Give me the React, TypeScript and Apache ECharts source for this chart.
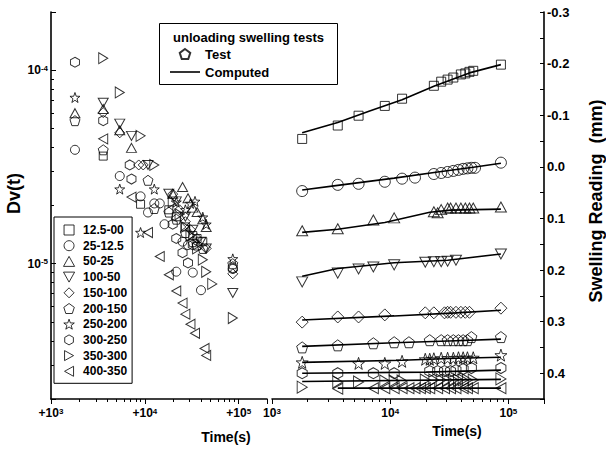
import React, { useEffect, useRef } from 'react';
import * as echarts from 'echarts';

const FONT = '"Liberation Sans", Arial, Helvetica, sans-serif';

// Load steps (kPa)
const STEPS = ['12.5-00', '25-12.5', '50-25', '100-50', '150-100', '200-150', '250-200', '300-250', '350-300', '400-350'];

// ---- Left panel: Dv(t) against time (s)
const dv_12_5_00 = [[3600, 3.6e-5], [9000, 2.03e-5], [18000, 1.9e-5], [21600, 1.75e-5], [27000, 1.55e-5], [32400, 1.4e-5], [36000, 1.35e-5], [41400, 1.3e-5]];
const dv_25_12_5 = [[1800, 3.88e-5], [5400, 2.84e-5], [9000, 2.23e-5], [10800, 1.84e-5], [12600, 2.05e-5], [14400, 2.05e-5], [16200, 1.6e-5], [21600, 9.1e-6], [25200, 1.3e-5], [28800, 1.25e-5], [32400, 9.0e-6], [39600, 7.3e-6], [86400, 9.4e-6]];
const dv_50_25 = [[1800, 6.0e-5], [3600, 6.3e-5], [5400, 4.9e-5], [7200, 3.97e-5], [19800, 2.3e-5], [25200, 2.49e-5], [28800, 2.18e-5], [32400, 1.95e-5], [36000, 1.85e-5], [41400, 1.7e-5], [45000, 1.55e-5]];
const dv_100_50 = [[3600, 6.8e-5], [5400, 5.3e-5], [7200, 4.58e-5], [10800, 3.24e-5], [18000, 2.3e-5], [21600, 2.1e-5], [27000, 1.75e-5], [32400, 1.5e-5], [39600, 1.3e-5], [45000, 1.2e-5], [86400, 7.06e-6]];
const dv_150_100 = [[3600, 6.04e-5], [5400, 4.75e-5], [8600, 3.24e-5], [9600, 3.24e-5], [19800, 2.29e-5], [23400, 1.9e-5], [27000, 1.65e-5], [30600, 1.5e-5], [36000, 1.35e-5], [45000, 1.2e-5], [86400, 8.87e-6]];
const dv_200_150 = [[1800, 5.49e-5], [3600, 3.88e-5], [10800, 2.7e-5], [12600, 1.93e-5], [18000, 1.85e-5], [21600, 1.7e-5], [27000, 1.45e-5], [32400, 1.3e-5], [36000, 1.25e-5], [41400, 1.2e-5], [86400, 1.0e-5]];
const dv_250_200 = [[1800, 7.23e-5], [5400, 2.43e-5], [9000, 1.45e-5], [12600, 2.43e-5], [21600, 2.08e-5], [27000, 1.9e-5], [30600, 2.05e-5], [34200, 2.1e-5], [41400, 1.74e-5], [45000, 1.6e-5], [86400, 1.06e-5]];
const dv_300_250 = [[1800, 1.1e-4], [3600, 5.49e-5], [6900, 3.24e-5], [7200, 2.74e-5], [19800, 1.6e-5], [21600, 1.35e-5], [25200, 1.14e-5], [28800, 1.01e-5], [32400, 1.25e-5], [86400, 9.5e-6]];
const dv_350_300 = [[3600, 1.155e-4], [5400, 7.68e-5], [9000, 4.58e-5], [12600, 3.24e-5], [19800, 2.08e-5], [23400, 1.8e-5], [27000, 1.55e-5], [30600, 1.4e-5], [36000, 1.2e-5], [41400, 1.05e-5], [45000, 9.08e-6], [52200, 7.87e-6], [86400, 5.24e-6]];
const dv_400_350 = [[3600, 4.42e-5], [7200, 2.21e-5], [10800, 1.45e-5], [14400, 1.09e-5], [18000, 8.77e-6], [21600, 7.23e-6], [25200, 6.26e-6], [27000, 5.49e-6], [30600, 4.87e-6], [34200, 4.37e-6], [43200, 3.65e-6], [45000, 3.36e-6]];

// ---- Right panel: swelling reading (mm) against time (s), test points
const sw_12_5_00 = [[1800, -0.054], [3600, -0.08], [5400, -0.099], [9000, -0.118], [12600, -0.132], [23400, -0.157], [27000, -0.165], [30600, -0.169], [34200, -0.173], [39600, -0.179], [43200, -0.181], [46800, -0.184], [50400, -0.186], [86400, -0.198]];
const sw_25_12_5 = [[1800, 0.047], [3600, 0.035], [5400, 0.033], [9000, 0.029], [12600, 0.023], [16200, 0.021], [23400, 0.014], [27000, 0.012], [30600, 0.01], [34200, 0.008], [37800, 0.006], [41400, 0.004], [45000, 0.003], [48600, 0.002], [52200, 0.002], [86400, -0.008]];
const sw_50_25 = [[1800, 0.124], [3600, 0.12], [7200, 0.103], [10800, 0.099], [23400, 0.087], [25200, 0.089], [27000, 0.083], [30600, 0.08], [32400, 0.08], [36000, 0.08], [39600, 0.08], [43200, 0.08], [46800, 0.08], [50400, 0.08], [86400, 0.078]];
const sw_100_50 = [[1800, 0.223], [3600, 0.206], [5400, 0.198], [7200, 0.194], [10800, 0.19], [19800, 0.185], [23400, 0.184], [27000, 0.184], [30600, 0.183], [36000, 0.181], [86400, 0.169]];
const sw_150_100 = [[1800, 0.301], [3600, 0.291], [5400, 0.291], [9000, 0.287], [19800, 0.283], [23400, 0.283], [28800, 0.283], [30600, 0.282], [32400, 0.282], [36000, 0.282], [39600, 0.282], [43200, 0.282], [46800, 0.282], [86400, 0.274]];
const sw_200_150 = [[1800, 0.35], [3600, 0.346], [7200, 0.342], [10800, 0.34], [14400, 0.34], [21600, 0.336], [27000, 0.336], [30600, 0.336], [34200, 0.336], [37800, 0.336], [41400, 0.336], [45000, 0.336], [48600, 0.33], [86400, 0.33]];
const sw_250_200 = [[1800, 0.379], [5400, 0.381], [9000, 0.381], [12600, 0.377], [19800, 0.373], [21600, 0.373], [23400, 0.372], [27000, 0.371], [30600, 0.371], [34200, 0.371], [37800, 0.37], [41400, 0.37], [45000, 0.37], [50400, 0.37], [86400, 0.365]];
const sw_300_250 = [[1800, 0.4], [3600, 0.4], [7200, 0.4], [10800, 0.4], [21600, 0.396], [25200, 0.396], [28800, 0.396], [32400, 0.396], [36000, 0.394], [41400, 0.392], [48600, 0.39], [86400, 0.39]];
const sw_350_300 = [[1800, 0.427], [3600, 0.417], [5400, 0.417], [9000, 0.415], [10800, 0.415], [12600, 0.415], [19800, 0.413], [23400, 0.413], [27000, 0.413], [30600, 0.413], [34200, 0.413], [37800, 0.413], [41400, 0.413], [45000, 0.413], [50400, 0.413], [86400, 0.411]];
const sw_400_350 = [[3600, 0.43], [7200, 0.429], [9000, 0.429], [10800, 0.429], [12600, 0.429], [14400, 0.429], [16200, 0.429], [18000, 0.429], [19800, 0.429], [21600, 0.429], [25200, 0.429], [28800, 0.429], [32400, 0.429], [36000, 0.429], [41400, 0.429], [45000, 0.429], [50400, 0.429], [86400, 0.429]];

// ---- Right panel: computed curves
const cp_12_5_00 = [[1800, -0.066], [3600, -0.086], [6700, -0.108], [12600, -0.13], [23400, -0.156], [46800, -0.182], [86400, -0.198]];
const cp_25_12_5 = [[1800, 0.045], [3600, 0.036], [10800, 0.022], [25200, 0.01], [50400, 0.001], [86400, -0.007]];
const cp_50_25 = [[1800, 0.127], [3600, 0.121], [9000, 0.108], [21600, 0.088], [32400, 0.084], [86400, 0.082]];
const cp_100_50 = [[1800, 0.212], [3600, 0.197], [10800, 0.186], [30600, 0.181], [86400, 0.169]];
const cp_150_100 = [[1800, 0.297], [10800, 0.289], [36000, 0.283], [86400, 0.278]];
const cp_200_150 = [[1800, 0.348], [10800, 0.341], [36000, 0.337], [86400, 0.334]];
const cp_250_200 = [[1800, 0.379], [12600, 0.375], [36000, 0.371], [86400, 0.369]];
const cp_300_250 = [[1800, 0.4], [20000, 0.398], [86400, 0.394]];
const cp_350_300 = [[1800, 0.416], [86400, 0.412]];
const cp_400_350 = [[3600, 0.429], [86400, 0.429]];

// ---- Tick values
const MINOR_T = [2000, 3000, 4000, 5000, 6000, 7000, 8000, 9000, 20000, 30000, 40000, 50000, 60000, 70000, 80000, 90000];
const MINOR_DV = [3e-6, 4e-6, 5e-6, 6e-6, 7e-6, 8e-6, 9e-6, 2e-5, 3e-5, 4e-5, 5e-5, 6e-5, 7e-5, 8e-5, 9e-5];

const DV = [dv_12_5_00, dv_25_12_5, dv_50_25, dv_100_50, dv_150_100, dv_200_150, dv_250_200, dv_300_250, dv_350_300, dv_400_350];
const SW = [sw_12_5_00, sw_25_12_5, sw_50_25, sw_100_50, sw_150_100, sw_200_150, sw_250_200, sw_300_250, sw_350_300, sw_400_350];
const CP = [cp_12_5_00, cp_25_12_5, cp_50_25, cp_100_50, cp_150_100, cp_200_150, cp_250_200, cp_300_250, cp_350_300, cp_400_350];

// ---- Styles
const SQUARE = 'path://M0,0L10,0L10,10L0,10Z';
const UP = 'path://M5,0L10,9L0,9Z';
const DIAMOND = 'path://M5,0L10,5L5,10L0,5Z';
const PENTAGON = 'path://M0,-1L0.951,-0.309L0.588,0.809L-0.588,0.809L-0.951,-0.309Z';
const STAR = 'path://M0,-1L0.235,-0.324L0.951,-0.309L0.38,0.124L0.588,0.809L0,0.4L-0.588,0.809L-0.38,0.124L-0.951,-0.309L-0.235,-0.324Z';
const HEXAGON = 'path://M0,-1L0.866,-0.5L0.866,0.5L0,1L-0.866,0.5L-0.866,-0.5Z';
const DOWN = 'path://M0,0L10,0L5,9Z';
const RIGHT = 'path://M0,0L9,5L0,10Z';
const LEFT = 'path://M9,0L0,5L9,10Z';
const LINE_ICON = 'path://M0,0L30,0L30,1.6L0,1.6Z';
const SYMBOLS = [SQUARE, 'circle', UP, DOWN, DIAMOND, PENTAGON, STAR, HEXAGON, RIGHT, LEFT];
const SIZE_R: any[] = [9, 11, [11, 10], [11, 10], [12, 12], [11, 11], [12, 12], [10, 11], [10, 12], [10, 11]];
const SIZE_L: any[] = [8, 9, [10, 9], [10, 9], [10, 10], [10, 10], [10, 10], [9, 10], [9, 11], [9, 10]];
const HOLLOW = { color: 'rgba(255,255,255,0)', borderColor: '#000', borderWidth: 1 };

const log10 = (v: number) => Math.log10(v);
const isDecade = (v: number) => {
  const e = Math.log10(v);
  return Math.abs(e - Math.round(e)) < 1e-6 ? Math.round(e) : null;
};

const RICH = (base: number) => ({
  b: { fontSize: base, fontWeight: 'bold', fontFamily: FONT, color: '#000' },
  sup: { fontSize: 8, fontWeight: 'bold', fontFamily: FONT, color: '#000', verticalAlign: 'top' },
});

const AXIS_LINE = { show: true, onZero: false, lineStyle: { color: '#000', width: 1.6 } };
const TICK_LINE = { color: '#000', width: 1 };

function buildOption(): any {
  const leftSeries = STEPS.map((name, i) => ({
    type: 'scatter', name, xAxisIndex: 0, yAxisIndex: 0, data: DV[i],
    symbol: SYMBOLS[i], symbolSize: SIZE_L[i], itemStyle: HOLLOW, silent: true,
  }));
  const rightSeries = STEPS.map((name, i) => ({
    type: 'scatter', name, xAxisIndex: 1, yAxisIndex: 1, data: SW[i],
    symbol: SYMBOLS[i], symbolSize: SIZE_R[i], itemStyle: HOLLOW, silent: true,
  }));
  const compSeries = STEPS.map((_, i) => ({
    type: 'line', name: 'Computed', xAxisIndex: 1, yAxisIndex: 1, data: CP[i],
    symbol: 'none', lineStyle: { color: '#000', width: 1.6 }, itemStyle: { color: '#000' }, silent: true, z: 4,
  }));
  const testKey = {
    type: 'scatter', name: 'Test', xAxisIndex: 1, yAxisIndex: 1, data: [],
    symbol: PENTAGON, symbolSize: 11, itemStyle: HOLLOW,
  };

  return {
    animation: false,
    backgroundColor: '#fff',
    textStyle: { fontFamily: FONT },
    grid: [
      { left: 51, top: 12, width: 216, height: 387, outerBoundsMode: 'none', containLabel: false },
      { left: 272, top: 12, width: 272, height: 387, outerBoundsMode: 'none', containLabel: false },
    ],
    xAxis: [
      {
        type: 'log', logBase: 10, gridIndex: 0, min: 1000, max: 200000, position: 'bottom',
        axisLine: AXIS_LINE, splitLine: { show: false },
        axisTick: { show: true, inside: false, length: 5, lineStyle: TICK_LINE },
        axisLabel: {
          margin: 8, rich: RICH(12),
          formatter: (v: number) => { const e = isDecade(v); return e === null ? '' : `{b|+10}{sup|${e}}`; },
        },
        name: 'Time(s)', nameLocation: 'middle', nameGap: 31,
        nameTextStyle: { fontSize: 14, fontWeight: 'bold', color: '#000', fontFamily: FONT, padding: [0, 0, 0, 134] },
      },
      {
        type: 'log', logBase: 10, gridIndex: 1, min: 1000, max: 200000, position: 'bottom',
        axisLine: AXIS_LINE, splitLine: { show: false },
        axisTick: { show: true, inside: false, length: 5, lineStyle: TICK_LINE },
        axisLabel: {
          margin: 8, rich: RICH(12),
          formatter: (v: number) => { const e = isDecade(v); return e === null ? '' : `{b|10}{sup|${e}}`; },
        },
        name: 'Time(s)', nameLocation: 'middle', nameGap: 25,
        nameTextStyle: { fontSize: 14, fontWeight: 'bold', color: '#000', fontFamily: FONT, padding: [0, 0, 0, 98] },
      },
      {
        type: 'value', gridIndex: 0, min: log10(1000), max: log10(200000), position: 'bottom',
        axisLine: { show: false, onZero: false }, axisLabel: { show: false }, splitLine: { show: false },
        axisTick: { show: true, inside: false, length: 3, lineStyle: TICK_LINE, customValues: MINOR_T.map(log10) },
      },
      {
        type: 'value', gridIndex: 1, min: log10(1000), max: log10(200000), position: 'bottom',
        axisLine: { show: false, onZero: false }, axisLabel: { show: false }, splitLine: { show: false },
        axisTick: { show: true, inside: false, length: 3, lineStyle: TICK_LINE, customValues: MINOR_T.map(log10) },
      },
    ],
    yAxis: [
      {
        type: 'log', logBase: 10, gridIndex: 0, min: 2e-6, max: 2e-4, position: 'left',
        axisLine: AXIS_LINE, splitLine: { show: false },
        axisTick: { show: true, inside: true, length: 5, lineStyle: TICK_LINE },
        axisLabel: {
          margin: 3, rich: RICH(12),
          formatter: (v: number) => { const e = isDecade(v); return e === null ? '' : `{b|10}{sup|${e}}`; },
        },
        name: 'Dv(t)', nameLocation: 'middle', nameRotate: 90, nameGap: 28,
        nameTextStyle: { fontSize: 18, fontWeight: 'bold', color: '#000', fontFamily: FONT, padding: [0, 0, 0, 24] },
      },
      {
        type: 'value', gridIndex: 1, position: 'right', inverse: true, min: -0.3, max: 0.45, interval: 0.05,
        axisLine: AXIS_LINE, splitLine: { show: false },
        axisTick: { show: true, inside: true, length: 4, lineStyle: TICK_LINE },
        axisLabel: {
          margin: 3, fontSize: 13, fontWeight: 'bold', color: '#000', fontFamily: FONT,
          formatter: (v: number) => { const k = Math.round(v * 100); return k % 10 !== 0 ? '' : (k / 100).toFixed(1); },
        },
        name: 'Swelling Reading  (mm)', nameLocation: 'middle', nameRotate: 90, nameGap: 43,
        nameTextStyle: { fontSize: 18, fontWeight: 'bold', color: '#000', fontFamily: FONT, padding: [0, 0, 0, 9] },
      },
      {
        type: 'value', gridIndex: 0, position: 'left', min: log10(2e-6), max: log10(2e-4),
        axisLine: { show: false, onZero: false }, axisLabel: { show: false }, splitLine: { show: false },
        axisTick: { show: true, inside: true, length: 3, lineStyle: TICK_LINE, customValues: MINOR_DV.map(log10) },
      },
    ],
    legend: [
      {
        data: STEPS, orient: 'vertical', left: 54, top: 217, padding: [6, 5, 5, 9],
        itemWidth: 18, itemHeight: 10, itemGap: 1.7, borderColor: '#000', borderWidth: 1,
        selectedMode: false, itemStyle: HOLLOW,
        textStyle: { fontSize: 12, fontWeight: 'bold', color: '#000', fontFamily: FONT, lineHeight: 14 },
      },
      {
        data: [{ name: 'Test' }, { name: 'Computed', icon: LINE_ICON, itemStyle: { color: '#000', borderWidth: 0 } }],
        orient: 'vertical', left: 170, top: 47, padding: 0,
        itemWidth: 30, itemHeight: 10, itemGap: 4, selectedMode: false,
        textStyle: { fontSize: 13, fontWeight: 'bold', color: '#000', fontFamily: FONT, lineHeight: 14 },
      },
    ],
    graphic: [
      { type: 'rect', silent: true, shape: { x: 159.5, y: 23.5, width: 178, height: 61 }, style: { fill: 'none', stroke: '#000', lineWidth: 1 } },
      { type: 'text', silent: true, x: 173, y: 37, style: { text: 'unloading swelling tests', font: `bold 13px ${FONT}`, fill: '#000', verticalAlign: 'middle' } },
    ],
    series: [...leftSeries, ...rightSeries, ...compSeries, testKey],
  };
}

export default function App() {
  const ref = useRef<HTMLDivElement>(null);
  useEffect(() => {
    if (!ref.current) return;
    const chart = echarts.init(ref.current, null, { renderer: 'svg' });
    chart.setOption(buildOption());
    return () => chart.dispose();
  }, []);
  return <div ref={ref} style={{ position: 'fixed', left: 0, top: 0, width: 606, height: 452, background: '#fff' }} />;
}
